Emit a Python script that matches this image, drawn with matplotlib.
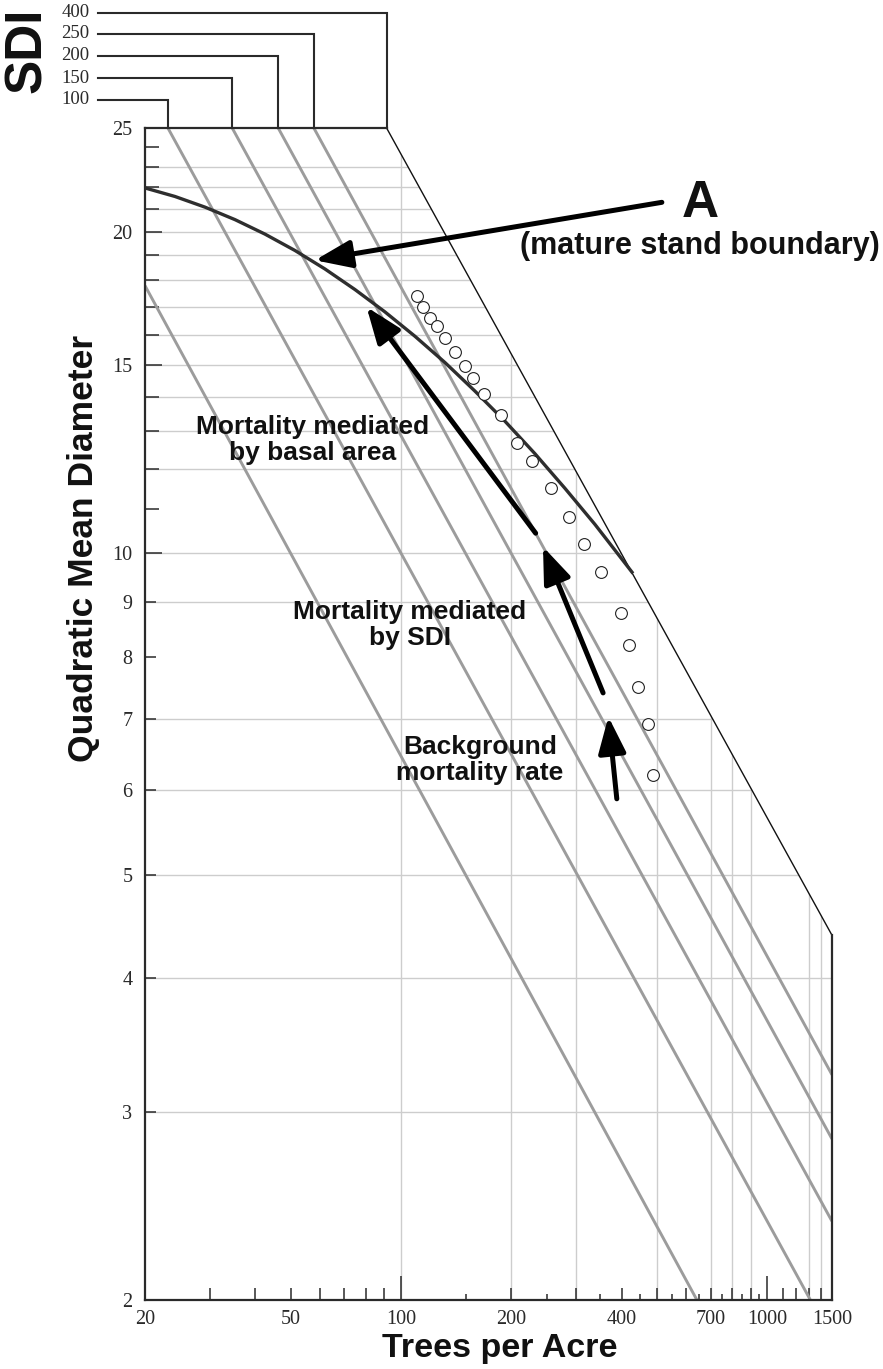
import numpy as np
import matplotlib.pyplot as plt
import matplotlib.transforms as mtransforms
from matplotlib.patches import Polygon
from matplotlib.ticker import NullLocator

# SDI reference lines (gray), end points: (trees per acre, QMD)
sdi_gray = [50, 100, 150, 200, 250]
sdi_gray_tpa = [(20, 642), (23.1, 1310), (34.6, 1500), (46.2, 1500), (57.8, 1500)]
sdi_gray_qmd = [(17.8, 2), (25, 2), (25, 2.37), (25, 2.83), (25, 3.25)]

# SDI 400 boundary line
sdi_max_tpa = [91.3, 1500]
sdi_max_qmd = [25, 4.39]

# curve A (mature stand boundary)
curve_tpa = [20.0, 24.15, 29.16, 35.21, 42.51, 51.33, 61.98, 74.84, 90.36,
             109.1, 131.8, 159.1, 192.1, 232.0, 280.1, 338.2, 426.8]
curve_qmd = [21.97, 21.57, 21.08, 20.52, 19.89, 19.20, 18.45, 17.65, 16.82,
             15.96, 15.08, 14.18, 13.29, 12.39, 11.50, 10.64, 9.60]

# stand trajectory (open circles)
stand_tpa = [110.7, 114.5, 119.8, 125.1, 131.8, 140.3, 149.4, 157.4, 168.7, 187.3, 206.8,
             227.2, 256.0, 287.2, 315.6, 351.2, 398.3, 419.6, 442.3, 472.8, 488.0]
stand_qmd = [17.41, 17.01, 16.61, 16.31, 15.89, 15.42, 14.98, 14.58, 14.10, 13.47, 12.67,
             12.20, 11.50, 10.80, 10.20, 9.60, 8.80, 8.20, 7.50, 6.92, 6.20]

# SDI bracket labels above the chart
bracket_sdi = [100, 150, 200, 250, 400]
bracket_tpa = [23.1, 34.6, 46.2, 57.8, 91.3]
bracket_y = [1.0242, 1.0424, 1.0617, 1.0804, 1.0984]   # axes fraction

# arrows: (tail, tip)
arrows = [((515, 21.3), (58.2, 18.8)),
          ((233, 10.44), (80.5, 17.0)),
          ((356, 7.40), (244, 10.14)),
          ((388, 5.89), (368, 7.03))]

notes = [("Mortality mediated\nby basal area", 57.5, 12.76),
         ("Mortality mediated\nby SDI", 105.8, 8.57),
         ("Background\nmortality rate", 164, 6.40)]

# axis ticks
x_ticks = [20, 30, 40, 50, 60, 70, 80, 90, 100, 150, 200, 250, 300, 350, 400, 450, 500,
           550, 600, 650, 700, 750, 800, 850, 900, 950, 1000, 1100, 1200, 1300, 1400, 1500]
x_tall = [100, 1000]
x_short = [150, 250, 350, 450, 550, 650, 750, 850, 950]
x_none = [20, 1500]
x_labeled = [20, 50, 100, 200, 400, 700, 1000, 1500]

y_ticks = [2, 3, 4, 5, 6, 7, 8, 9, 10, 11, 12, 13, 14, 15, 16, 17, 18, 19, 20,
           21, 22, 23, 24, 25]
y_long = [10, 15, 20]
y_labeled = [2, 3, 4, 5, 6, 7, 8, 9, 10, 15, 20, 25]

grid_x = [100, 200, 300, 500, 700, 800, 900, 1300, 1400]
grid_y = [3, 4, 5, 6, 7, 9, 10, 12, 13, 14, 15, 16, 17, 18, 19, 20, 21, 22, 23]

dark = '#2a2a2a'
serif = ['Liberation Serif', 'DejaVu Serif']
sans = ['Liberation Sans', 'DejaVu Sans']

fig = plt.figure(figsize=(8.83, 13.69), dpi=100)
ax = fig.add_axes([0.1642, 0.0504, 0.7780, 0.8561])
ax.set_xscale('log')
ax.set_yscale('log')
ax.set_xlim(20, 1500)
ax.set_ylim(2, 25)

# chart outline polygon used for clipping the grid
outline = Polygon([(20, 2), (1500, 2), (1500, sdi_max_qmd[1]), (sdi_max_tpa[0], 25), (20, 25)],
                  closed=True, fill=False, edgecolor='none')
ax.add_patch(outline)

hl = ax.hlines(grid_y, 20, 1500, color='#cdcdcd', lw=1.0, zorder=1)
vl = ax.vlines(grid_x, 2, 25, color='#cdcdcd', lw=1.0, zorder=1)
hl.set_clip_path(outline)
vl.set_clip_path(outline)

for tpa, qmd in zip(sdi_gray_tpa, sdi_gray_qmd):
    ax.plot(tpa, qmd, color='#9c9c9c', lw=2.1, zorder=2, solid_capstyle='butt')

ax.plot(sdi_max_tpa, sdi_max_qmd, color='#111111', lw=1.0, zorder=3)
ax.plot([20, sdi_max_tpa[0]], [25, 25], color=dark, lw=1.6, zorder=3, clip_on=False)
ax.plot([1500, 1500], [2, sdi_max_qmd[1]], color=dark, lw=1.6, zorder=3, clip_on=False)

ax.plot(curve_tpa, curve_qmd, color='#2e2e2e', lw=2.4, zorder=4)
ax.plot(stand_tpa, stand_qmd, 'o', ms=8.5, mfc='white', mec='#222222', mew=0.8, zorder=5)

for tail, tip in arrows:
    ax.annotate('', xy=tip, xytext=tail, zorder=6,
                arrowprops=dict(arrowstyle='-|>,head_length=1.1,head_width=0.42',
                                mutation_scale=20, lw=3.6, color='k',
                                shrinkA=0, shrinkB=0))

for txt, x, y in notes:
    ax.text(x, y, txt, ha='center', va='center', fontsize=19, fontweight='bold',
            family=sans, color='#111111', linespacing=1.1, zorder=7)

ax.text(654, 20.64, 'A', ha='center', va='baseline', fontsize=37, fontweight='bold',
        family=sans, color='#111111')
ax.text(654, 19.39, '(mature stand boundary)', ha='center', va='center', fontsize=22,
        fontweight='bold', family=sans, color='#111111')

# SDI brackets above the top edge
btrans = mtransforms.blended_transform_factory(ax.transData, ax.transAxes)
for sdi, tpa, yb in zip(bracket_sdi, bracket_tpa, bracket_y):
    ax.plot([14.86, tpa, tpa], [yb, yb, 1.0], transform=btrans, color=dark, lw=1.5,
            clip_on=False, solid_joinstyle='miter')
    ax.text(14.1, yb, str(sdi), transform=btrans, ha='right', va='center',
            fontsize=13.5, family=serif, color=dark)
fig.text(0.031, 0.9635, 'SDI', rotation=90, ha='center', va='center', fontsize=37,
         fontweight='bold', family=sans, color='#111111')

# spines
for side in ['top', 'right']:
    ax.spines[side].set_visible(False)
for side in ['left', 'bottom']:
    ax.spines[side].set_linewidth(1.6)
    ax.spines[side].set_color(dark)

# ticks
ax.set_xticks(x_ticks)
ax.set_xticklabels([str(v) if v in x_labeled else '' for v in x_ticks])
ax.set_yticks(y_ticks)
ax.set_yticklabels([str(v) if v in y_labeled else '' for v in y_ticks])
ax.xaxis.set_minor_locator(NullLocator())
ax.yaxis.set_minor_locator(NullLocator())
ax.tick_params(direction='in', width=1.1, color=dark, labelcolor=dark, labelsize=14.5)
ax.tick_params(axis='x', pad=7)
ax.tick_params(axis='y', pad=9)
for lab in ax.get_xticklabels() + ax.get_yticklabels():
    lab.set_family(serif)

for tick, v in zip(ax.xaxis.get_major_ticks(), x_ticks):
    if v in x_none:
        size = 0
    elif v in x_tall:
        size = 17
    elif v in x_short:
        size = 4.5
    else:
        size = 8.6
    tick.tick1line.set_markersize(size)
for tick, v in zip(ax.yaxis.get_major_ticks(), y_ticks):
    if v in (2, 25):
        size = 0
    elif v in y_long:
        size = 12
    elif v > 10:
        size = 10
    else:
        size = 8
    tick.tick1line.set_markersize(size)

ax.set_xlabel('Trees per Acre', fontsize=24.5, fontweight='bold', family=sans,
              color='#111111')
ax.set_ylabel('Quadratic Mean Diameter', fontsize=25.5, fontweight='bold', family=sans,
              color='#111111')
ax.xaxis.set_label_coords(0.5167, -0.0285)
ax.yaxis.set_label_coords(-0.066, 0.6416)

fig.savefig('out.png', dpi=100)
